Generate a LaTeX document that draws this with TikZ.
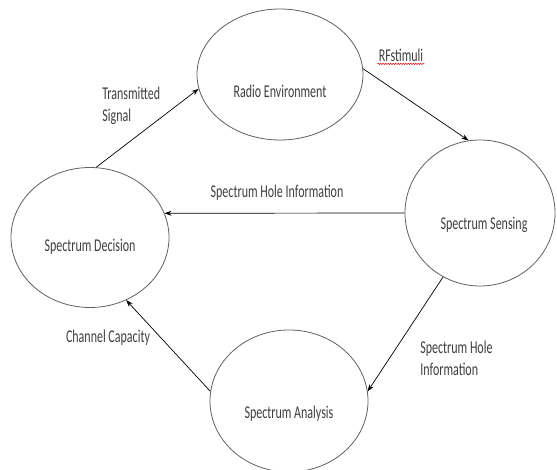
\documentclass[tikz,border=0pt]{standalone}
\usepackage{fontspec}
\setmainfont{Carlito}
\usetikzlibrary{positioning, arrows.meta, shapes.geometric, decorations.pathmorphing}
\definecolor{txtgray}{RGB}{62,62,62}
\definecolor{rimgray}{RGB}{95,95,95}

\begin{document}
\begin{tikzpicture}[x=1pt,y=-1pt,->,>={Stealth[length=7pt,width=5pt]},line width=0.7pt]
\tikzstyle{blob}=[ellipse,draw=rimgray,line width=0.8pt,inner sep=0pt]
\tikzstyle{lbl}=[text=txtgray,font=\fontsize{12}{14.7}\selectfont,yscale=1.5,inner sep=1pt]
\useasboundingbox (0,0) rectangle (557,470);

\node[blob,minimum width=166pt,minimum height=131pt] (re) at (280,74.5) {};
\node[blob,minimum width=150pt,minimum height=146pt] (ss) at (480,213) {};
\node[blob,minimum width=158pt,minimum height=140pt] (sd) at (90,237.5) {};
\node[blob,minimum width=158pt,minimum height=142pt] (sa) at (289,401) {};

\node[lbl] (re-t) at ([yshift=-17pt]re.center) {Radio Environment};
\node[lbl] (ss-t) at ([xshift=4pt,yshift=-12pt]ss.center) {Spectrum Sensing};
\node[lbl] (sd-t) at ([yshift=-9pt]sd.center) {Spectrum Decision};
\node[lbl] (sa-t) at ([yshift=-13pt]sa.center) {Spectrum Analysis};

\path
(sd.85) edge (re.190)
(re.4.5) edge (ss.99.5)
(ss.180) edge (sd.18)
(ss.240) edge (sa.7.7)
(sa.173) edge (sd.300);

\node[lbl,align=left,anchor=west] (ts) at (101,106) {Transmitted\\Signal};
\node[lbl] (rf) at (401,55) {RFstimuli};
\node[lbl] (shi) at (277,193) {Spectrum Hole Information};
\node[lbl] (cc) at (108,338) {Channel Capacity};
\node[lbl,align=left,anchor=west] (shi2) at (419,358) {Spectrum Hole\\Information};

\draw[-,red!85!black,line width=0.5pt,decorate,decoration={snake,amplitude=0.7pt,segment length=2.5pt}]
  ([yshift=-0.5pt]rf.south west) -- ([yshift=-0.5pt]rf.south east);
\end{tikzpicture}
\end{document}
